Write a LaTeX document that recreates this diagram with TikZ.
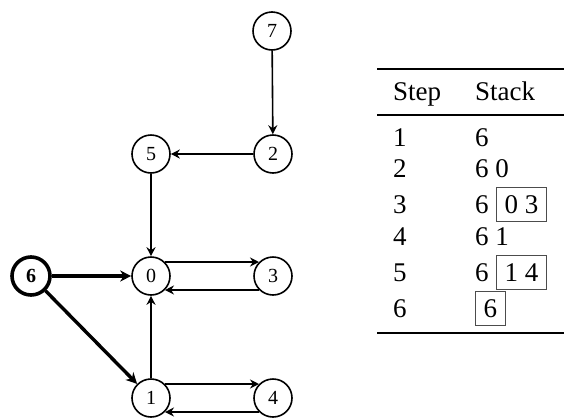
\documentclass[tikz,border=0pt]{standalone}
\usepackage{fontspec}
\setmainfont{Liberation Serif}
\usetikzlibrary{arrows.meta}
\begin{document}
\begin{tikzpicture}[x=1pt,y=-1pt,
  vert/.style={circle,draw,line width=1.6pt,minimum size=38pt,inner sep=0pt,font=\fontsize{20}{22}\selectfont},
  startv/.style={vert,line width=3.6pt,font=\fontsize{20}{22}\selectfont\bfseries},
  edge/.style={line width=1.6pt,-{Stealth[length=9pt,width=9pt,inset=3pt]}},
  heavyedge/.style={line width=3.4pt,-{Stealth[length=11pt,width=11pt,inset=3.5pt]}},
  cell/.style={anchor=base west,inner sep=0pt,font=\fontsize{27}{32}\selectfont},
  boxcell/.style={cell,draw=black!70,line width=1pt,inner sep=8pt},
  tabrule/.style={line width=2.2pt},
  midtabrule/.style={line width=1.4pt}
]
\useasboundingbox (0,0) rectangle (564,418);

% graph
\node[vert] (n7) at (272,31) {7};
\node[vert] (n2) at (273,154) {2};
\node[vert] (n5) at (151,154) {5};
\node[vert] (n0) at (151,276) {0};
\node[vert] (n3) at (273,276) {3};
\node[startv] (n6) at (31,276) {6};
\node[vert] (n1) at (151,398) {1};
\node[vert] (n4) at (273,398) {4};

\draw[edge] (n7) -- (n2);
\draw[edge] (n2) -- (n5);
\draw[edge] (n5) -- (n0);
\draw[edge] (n1) -- (n0);
\draw[edge] (n0.45) -- (n3.135);
\draw[edge] (n3.-135) -- (n0.-45);
\draw[edge] (n1.45) -- (n4.135);
\draw[edge] (n4.-135) -- (n1.-45);
\draw[heavyedge] (n6) -- (n0);
\draw[heavyedge] (n6) -- (n1);

% table
\coordinate (tl) at (377,69);
\coordinate (tr) at (564,69);
\coordinate (ml) at (377,115);
\coordinate (mr) at (564,115);
\coordinate (bl) at (377,333);
\coordinate (br) at (564,333);
\draw[tabrule] (tl) -- (tr);
\draw[midtabrule] (ml) -- (mr);
\draw[tabrule] (bl) -- (br);

\node[cell] (hstep) at (393,100) {Step};
\node[cell] (hstack) at (475,100) {Stack};

\node[cell] (s1) at (393,146) {1};
\node[cell] (k1) at (475,146) {6};
\node[cell] (s2) at (393,177) {2};
\node[cell] (k2) at (475,177) {6 0};
\node[cell] (s3) at (393,213) {3};
\node[cell] (k3) at (475,213) {6};
\node[boxcell] (b3) at (496,213) {0 3};
\node[cell] (s4) at (393,245) {4};
\node[cell] (k4) at (475,245) {6 1};
\node[cell] (s5) at (393,281) {5};
\node[cell] (k5) at (475,281) {6};
\node[boxcell] (b5) at (496,281) {1 4};
\node[cell] (s6) at (393,317) {6};
\node[boxcell] (b6) at (475,317) {6};
\end{tikzpicture}
\end{document}
